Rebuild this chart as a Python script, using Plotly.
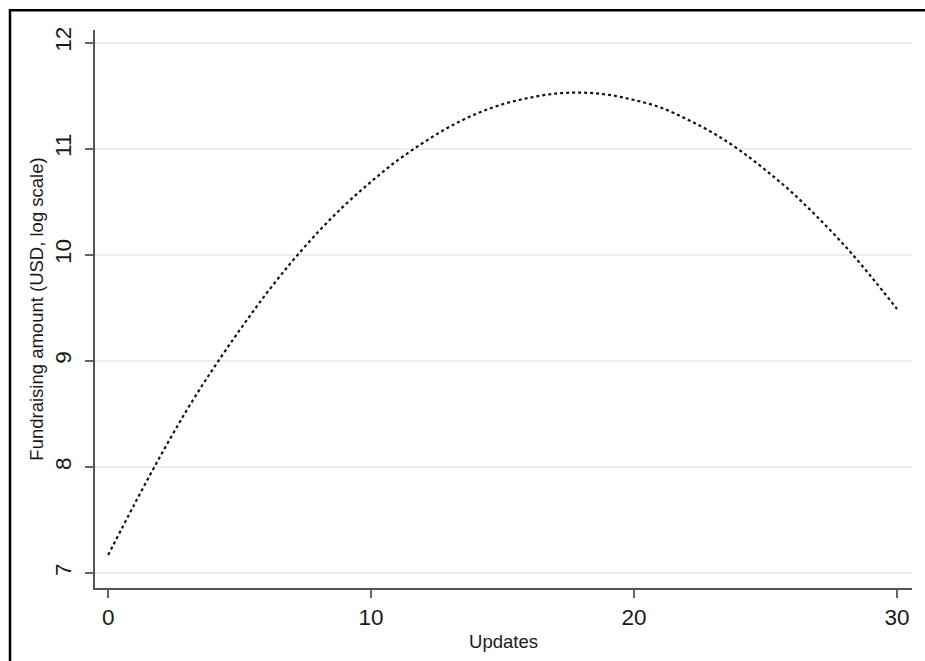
import plotly.graph_objects as go

updates = list(range(0, 31))
fundraising_log = [7.17, 7.65, 8.11, 8.54, 8.93, 9.29, 9.63, 9.94, 10.22, 10.47,
                   10.69, 10.89, 11.06, 11.21, 11.33, 11.42, 11.48, 11.52, 11.53, 11.51,
                   11.46, 11.39, 11.28, 11.15, 10.99, 10.80, 10.59, 10.35, 10.09, 9.80, 9.49]
x_ticks = [0, 10, 20, 30]
y_ticks = [7, 8, 9, 10, 11, 12]

W, H = 925, 661
L, R, T, B = 95, 13, 30, 68
pw, ph = W - L - R, H - T - B

fig = go.Figure()
fig.add_trace(go.Scatter(
    x=updates, y=fundraising_log, mode="lines",
    line=dict(color="#111111", width=2.2, dash="dot", shape="spline"),
    showlegend=False, hoverinfo="skip",
))

font_family = "Liberation Sans, Arial, sans-serif"
fig.update_layout(
    width=W, height=H,
    margin=dict(l=L, r=R, t=T, b=B, pad=0),
    paper_bgcolor="white", plot_bgcolor="white",
    font=dict(family=font_family, color="#1a1a1a"),
    xaxis=dict(
        range=[-0.5, 30.57], tickvals=x_ticks, ticktext=[str(v) for v in x_ticks],
        showgrid=False, zeroline=False,
        showline=True, linecolor="#555555", linewidth=1.5,
        ticks="outside", ticklen=8, tickwidth=1.5, tickcolor="#666666",
        tickfont=dict(size=22.5, family=font_family, color="#1a1a1a"),
        title=dict(text="Updates", font=dict(size=18.5, family=font_family), standoff=6),
    ),
    yaxis=dict(
        range=[6.86, 12.12], tickvals=y_ticks, ticktext=[str(v) for v in y_ticks],
        showgrid=True, gridcolor="#e8f0f1", gridwidth=1.5, zeroline=False,
        showline=True, linecolor="#555555", linewidth=1.5,
        ticks="outside", ticklen=8, tickwidth=1.5, tickcolor="#666666",
        tickangle=-90, ticklabelstandoff=5,
        tickfont=dict(size=22.5, family=font_family, color="#1a1a1a"),
        title=dict(text="Fundraising amount (USD, log scale)",
                   font=dict(size=18.5, family=font_family), standoff=3),
    ),
)

# outer frame
fig.add_shape(type="rect", xref="paper", yref="paper",
              x0=(10 - L) / pw, x1=(940 - L) / pw,
              y0=-(680 - (H - B)) / ph, y1=1 + (T - 10) / ph,
              line=dict(color="black", width=2.5), fillcolor="rgba(0,0,0,0)",
              layer="below")

fig.write_html("out.html", config={"displayModeBar": False},
               post_script="document.body.style.margin='0';")
